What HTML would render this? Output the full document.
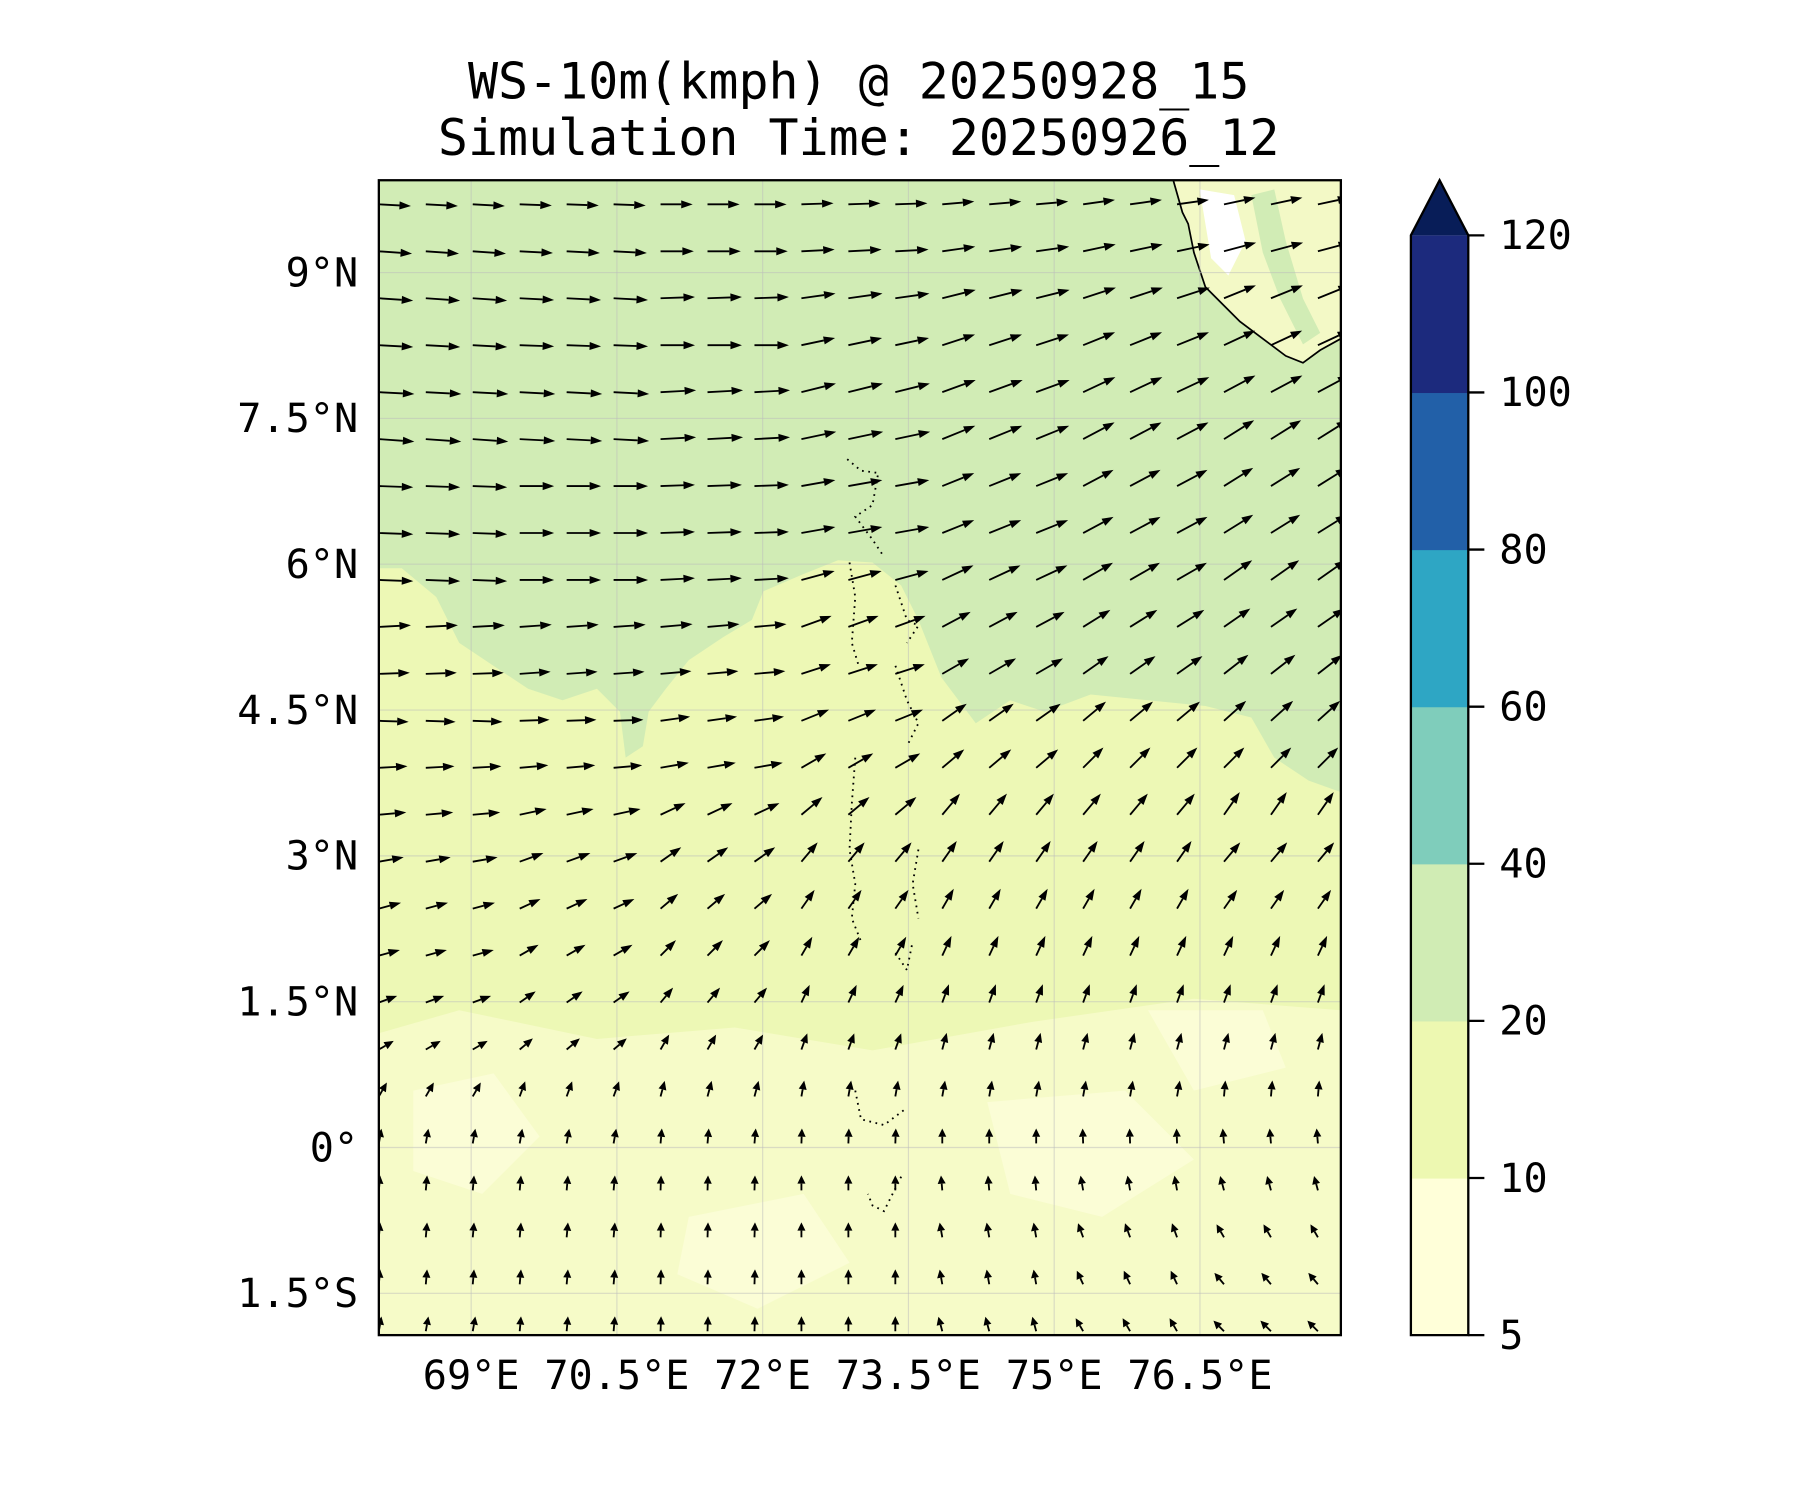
<!DOCTYPE html>
<html><head><meta charset="utf-8"><style>
html,body{margin:0;padding:0;background:#fff;}
svg{display:block;}
text{font-family:"DejaVu Sans Mono","Liberation Mono",monospace;fill:#000;}
</style></head><body>
<svg id="chart" width="1800" height="1500" viewBox="0 0 1800 1500" xmlns="http://www.w3.org/2000/svg">
<g transform="scale(1.148)">
  <text x="748" y="86" font-size="43.5" text-anchor="middle">WS-10m(kmph) @ 20250928_15</text>
  <text x="748" y="135" font-size="43.5" text-anchor="middle">Simulation Time: 20250926_12</text>
  <defs><clipPath id="axclip"><rect x="330" y="157" width="838" height="1006"/></clipPath></defs>
  <g clip-path="url(#axclip)">
    <rect x="330" y="157" width="838" height="1006" fill="#edf8b5"/>
    <path d="M330,900 L400,880 L520,905 L640,895 L760,915 L900,890 L1040,870 L1168,880 L1168,1163 L330,1163 Z" fill="#f6fbc8"/>
    <path d="M360,950 L430,935 L470,990 L420,1040 L360,1020 Z M860,960 L980,950 L1040,1010 L960,1060 L880,1040 Z M600,1060 L700,1040 L740,1100 L660,1140 L590,1110 Z M1000,880 L1100,880 L1120,930 L1040,950 Z" fill="#fbfdd6"/>
    <path d="M330,157 L1168,157 L1168,690 L1140,680 L1110,660 L1090,625 L1050,615 L1000,610 L950,605 L910,620 L880,610 L850,630 L820,590 L800,540 L785,510 L760,490 L730,488 L700,500 L665,515 L655,540 L630,555 L600,575 L580,600 L565,620 L560,650 L545,660 L540,620 L520,600 L490,610 L460,600 L430,580 L400,560 L380,520 L350,495 L330,495 Z" fill="#d1ecb5"/>
    <path d="M1022,157 L1030,185 L1035,195 L1040,220 L1050,250 L1065,265 L1080,280 L1100,295 L1120,310 L1135,316 L1150,305 L1168,295 L1168,157 Z" fill="#f3f9c6"/>
    <path d="M1045,165 L1075,170 L1085,210 L1070,240 L1055,225 Z" fill="#ffffff"/>
    <path d="M1090,170 L1110,165 L1120,210 L1135,260 L1150,290 L1135,300 L1115,260 L1100,220 Z" fill="#d1ecb5"/>
    <path d="M1022,157 L1030,185 L1035,195 L1040,220 L1050,250 L1065,265 L1080,280 L1100,295 L1120,310 L1135,316 L1150,305 L1168,295" fill="none" stroke="#000" stroke-width="1.5"/>
    <g id="gridlines" stroke="#bbbbbb" stroke-opacity="0.5" stroke-width="1"></g>
    <path d="M738,400 L750,410 L765,412 L760,440 L745,450 L760,470 L770,485 M740,490 L745,520 L742,560 L748,580 M780,510 L790,540 L800,545 L790,560 M780,580 L790,610 L800,630 L790,650 M745,660 L742,700 L740,740 L745,770 L742,800 L750,820 M800,740 L795,770 L800,800 M780,830 L790,845 L795,820 M745,950 L750,975 L770,980 L790,965 M785,1025 L770,1055 L760,1050 L756,1040" fill="none" stroke="#000" stroke-width="1.6" stroke-dasharray="1.5,4"/>
    <g id="arrows"></g>
  </g>
  <rect x="330" y="157" width="838" height="1006" fill="none" stroke="#000" stroke-width="2"/>
  <g id="xticks"></g>
  <g id="yticks"></g>
  <g id="cbar"></g>
</g>
</svg>
<script>
const lonTicks=[69,70.5,72,73.5,75,76.5];
const lonLabels=["69°E","70.5°E","72°E","73.5°E","75°E","76.5°E"];
const latTicks=[9,7.5,6,4.5,3,1.5,0,-1.5];
const latLabels=["9°N","7.5°N","6°N","4.5°N","3°N","1.5°N","0°","1.5°S"];
const cbarLevels=[5,10,20,40,60,80,100,120];
const cbarColors=["#ffffd9","#edf8b1","#d0ecb4","#7fcdbb","#2ea6c4","#2260a8","#1c2a7d"];
const cbarOver="#081d58";
// wind direction (deg, 0=east, 90=north) per row (north->south), 7 column groups
const windAngle=[
[-3,-2,0,2,5,8,12],[-4,-3,0,3,8,12,15],[-4,-3,2,8,14,18,22],[-3,-2,0,12,18,22,25],
[-3,-3,3,14,20,25,28],[-4,-3,3,12,22,28,32],[-2,0,2,10,22,28,32],[-2,0,2,10,22,28,32],
[-2,0,3,15,25,30,35],[3,4,5,20,28,32,35],[2,4,5,18,30,35,38],[-2,2,8,22,35,40,42],
[3,5,10,30,40,45,45],[5,12,25,40,50,50,55],[10,20,35,50,55,55,50],[15,25,40,55,60,60,55],
[15,30,45,60,65,65,65],[20,35,50,65,70,70,70],[30,40,60,70,75,75,75],[60,70,75,80,80,80,85],
[80,80,85,88,90,92,95],[85,85,88,90,95,100,105],[85,85,88,90,100,110,120],[85,85,88,90,100,115,130],
[80,85,88,90,105,120,135]];
// arrow length per row (proportional to speed)
const windLen=[28,29,30,30,31,31,30,30,30,28,27,26,25,24,22,20,19,17,15,14,13,13,13,13,13];

const NS="http://www.w3.org/2000/svg";
const L0=330,R0=1168,T0=157,B0=1163,lonMin=68.05,lonMax=77.95,latMin=-1.93,latMax=9.95;
function xOf(lon){return L0+(lon-lonMin)/(lonMax-lonMin)*(R0-L0);}
function yOf(lat){return T0+(latMax-lat)/(latMax-latMin)*(B0-T0);}
function mk(tag,attrs,parent){const e=document.createElementNS(NS,tag);for(const k in attrs)e.setAttribute(k,attrs[k]);parent.appendChild(e);return e;}

const grid=document.getElementById('gridlines');
lonTicks.forEach(v=>{const l=mk('line',{x1:xOf(v),x2:xOf(v),y1:T0,y2:B0},grid);

});
latTicks.forEach(v=>{const l=mk('line',{x1:L0,x2:R0,y1:yOf(v),y2:yOf(v)},grid);

});

const xg=document.getElementById('xticks');
lonTicks.forEach((v,i)=>{const t=mk('text',{x:xOf(v),y:1210,'font-size':35,'text-anchor':'middle'},xg);t.textContent=lonLabels[i];

});
const yg=document.getElementById('yticks');
latTicks.forEach((v,i)=>{const t=mk('text',{x:312,y:yOf(v)+12,'font-size':35,'text-anchor':'end'},yg);t.textContent=latLabels[i];

});

// arrows
const ag=document.getElementById('arrows');
const nCols=21,colStep=40.9,rowStep=40.9;
windAngle.forEach((row,j)=>{
  for(let i=0;i<nCols;i++){
    const a=row[Math.floor(i/3)]*Math.PI/180, len=windLen[j];
    const x0=L0+i*colStep, y0=178+j*rowStep;
    const dx=Math.cos(a), dy=-Math.sin(a);
    const x1=x0+dx*len, y1=y0+dy*len;
    const hl=Math.min(10,len*0.55), hw=3.5;
    const bx=x1-dx*hl, by=y1-dy*hl;
    const g=mk('g',{},ag);
    
    
    mk('line',{x1:x0,y1:y0,x2:bx,y2:by,stroke:'#000','stroke-width':1.6},g);
    mk('polygon',{points:`${x1},${y1} ${bx-dy*hw},${by+dx*hw} ${bx+dy*hw},${by-dx*hw}`,fill:'#000'},g);
  }
});

// colorbar
const cb=document.getElementById('cbar');
const cx=1229,cw=50,cTop=205,cBot=1163,seg=(cBot-cTop)/(cbarLevels.length-1);
cbarColors.forEach((c,i)=>{const r=mk('rect',{x:cx,y:cBot-(i+1)*seg,width:cw,height:seg+0.5,fill:c},cb);

});
const tri=mk('polygon',{points:`${cx},${cTop} ${cx+cw/2},157 ${cx+cw},${cTop}`,fill:cbarOver},cb);


mk('path',{d:`M${cx},${cBot} L${cx},${cTop} L${cx+cw/2},157 L${cx+cw},${cTop} L${cx+cw},${cBot} Z`,fill:'none',stroke:'#000','stroke-width':2},cb);
cbarLevels.forEach((v,i)=>{const y=cBot-i*seg;
mk('line',{x1:cx+cw,x2:cx+cw+14,y1:y,y2:y,stroke:'#000','stroke-width':2},cb);
const t=mk('text',{x:1306,y:y+12,'font-size':35},cb);t.textContent=v;

});
</script>
</body></html>
